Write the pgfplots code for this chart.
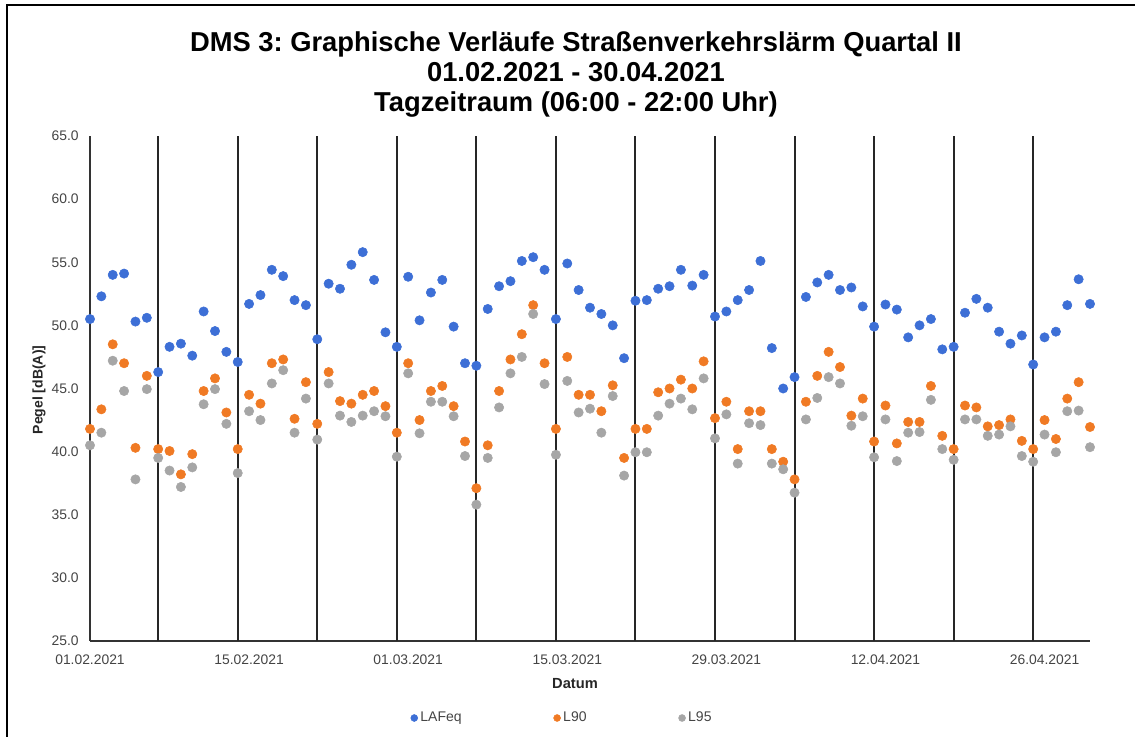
\documentclass[border=0pt]{standalone}
\usepackage{fontspec}
\setmainfont{Liberation Sans}
\usepackage{pgfplots}
\usepackage{pgfplotstable}
\pgfplotsset{compat=1.18}
\frenchspacing
\definecolor{cBlue}{RGB}{61,111,214}
\definecolor{cOrange}{RGB}{240,122,36}
\definecolor{cGray}{RGB}{166,166,166}
\definecolor{cText}{RGB}{68,68,68}
\pgfplotstableread{
day LAFeq L90 L95
0 50.5 41.8 40.5
1 52.3 43.35 41.5
2 54.0 48.5 47.2
3 54.1 47.0 44.8
4 50.3 40.3 37.8
5 50.6 46.0 44.95
6 46.3 40.2 39.5
7 48.3 40.05 38.5
8 48.55 38.2 37.2
9 47.6 39.8 38.75
10 51.1 44.8 43.75
11 49.55 45.8 44.95
12 47.9 43.1 42.2
13 47.1 40.2 38.3
14 51.7 44.5 43.2
15 52.4 43.8 42.5
16 54.4 47.0 45.4
17 53.9 47.3 46.45
18 52.0 42.6 41.5
19 51.6 45.5 44.2
20 48.9 42.2 40.95
21 53.3 46.3 45.4
22 52.9 44.0 42.85
23 54.8 43.8 42.35
24 55.8 44.5 42.85
25 53.6 44.8 43.2
26 49.45 43.6 42.8
27 48.3 41.5 39.6
28 53.85 47.0 46.2
29 50.4 42.5 41.45
30 52.6 44.8 43.95
31 53.6 45.2 43.95
32 49.9 43.6 42.8
33 47.0 40.8 39.65
34 46.8 37.1 35.8
35 51.3 40.5 39.5
36 53.1 44.8 43.5
37 53.5 47.3 46.2
38 55.1 49.3 47.5
39 55.4 51.6 50.9
40 54.4 47.0 45.35
41 50.5 41.8 39.75
42 54.9 47.5 45.6
43 52.8 44.5 43.1
44 51.4 44.5 43.4
45 50.9 43.2 41.5
46 50.0 45.25 44.4
47 47.4 39.5 38.1
48 51.95 41.8 39.95
49 52.0 41.8 39.95
50 52.9 44.7 42.85
51 53.1 45.0 43.8
52 54.4 45.7 44.2
53 53.15 45.0 43.35
54 54.0 47.15 45.8
55 50.7 42.65 41.05
56 51.1 43.95 42.95
57 52.0 40.2 39.05
58 52.8 43.2 42.25
59 55.1 43.2 42.1
60 48.2 40.2 39.05
61 45.0 39.2 38.6
62 45.9 37.8 36.75
63 52.25 43.95 42.55
64 53.4 46.0 44.25
65 54.0 47.9 45.9
66 52.8 46.7 45.4
67 53.0 42.85 42.05
68 51.5 44.2 42.8
69 49.9 40.8 39.55
70 51.65 43.65 42.55
71 51.25 40.65 39.25
72 49.05 42.35 41.5
73 50.0 42.35 41.55
74 50.5 45.2 44.1
75 48.1 41.25 40.2
76 48.3 40.2 39.35
77 51.0 43.65 42.55
78 52.1 43.5 42.55
79 51.4 42.0 41.25
80 49.5 42.1 41.35
81 48.55 42.55 42.0
82 49.2 40.85 39.65
83 46.9 40.2 39.2
84 49.05 42.5 41.35
85 49.5 41.0 39.95
86 51.6 44.2 43.2
87 53.65 45.5 43.25
88 51.7 41.95 40.35
}\datatable
\begin{document}
\begin{tikzpicture}[x=0.75pt,y=0.75pt]
\useasboundingbox (0,0) rectangle (1135,737);
\draw[line width=1.5pt, black] (7,-5) -- (7,732) -- (1140,732);
\begin{axis}[
  at={(67.5pt,72pt)}, anchor=south west,
  scale only axis, width=750pt, height=378.75pt,
  xmin=0, xmax=88, ymin=25, ymax=65,
  axis x line*=bottom, axis y line*=left,
  axis line style={-, draw=black!80, line width=1.2pt},
  xtick={0,14,28,42,56,70,84},
  xticklabels={01.02.2021,15.02.2021,01.03.2021,15.03.2021,29.03.2021,12.04.2021,26.04.2021},
  ytick={25,30,35,40,45,50,55,60,65},
  /pgf/number format/assume math mode=true,
  tick label style={font=\fontsize{10.4}{12}\selectfont, text=cText},
  xticklabel style={yshift=-6.5pt},
  yticklabel style={xshift=-5pt, /pgf/number format/.cd, fixed, fixed zerofill, precision=1},
  major tick length=0pt,
  extra x ticks={6,13,20,27,34,41,48,55,62,69,76,83},
  extra x tick labels={},
  extra x tick style={grid=major, major grid style={draw=black!85, line width=1.5pt}},
  clip=false,
  legend columns=3,
  legend style={at={(0.4725,-0.1525)}, anchor=center, draw=none, fill=none,
    font=\fontsize{10.5}{12}\selectfont, text=cText,
    /tikz/every even column/.append style={column sep=67pt}},
  legend image code/.code={\draw[#1, mark size=2.6pt] plot coordinates {(0cm,0cm)};},
]
\addplot[only marks, mark=*, mark size=3.5pt, color=cBlue] table[x=day,y=LAFeq]{\datatable};
\addplot[only marks, mark=*, mark size=3.5pt, color=cOrange] table[x=day,y=L90]{\datatable};
\addplot[only marks, mark=*, mark size=3.5pt, color=cGray] table[x=day,y=L95]{\datatable};
\legend{LAFeq,L90,L95}
\end{axis}
\node[align=center, font=\bfseries\fontsize{20.5}{22.5}\selectfont, text=black] at (576,662)
  {DMS 3: Graphische Verläufe Straßenverkehrslärm Quartal II\\01.02.2021 - 30.04.2021\\Tagzeitraum (06:00 - 22:00 Uhr)};
\node[font=\bfseries\fontsize{11}{13}\selectfont, text=black!85] at (575,53) {Datum};
\node[rotate=90, font=\bfseries\fontsize{10.5}{12}\selectfont, text=black!85] at (39,347) {Pegel [dB(A)]};
\end{tikzpicture}
\end{document}
